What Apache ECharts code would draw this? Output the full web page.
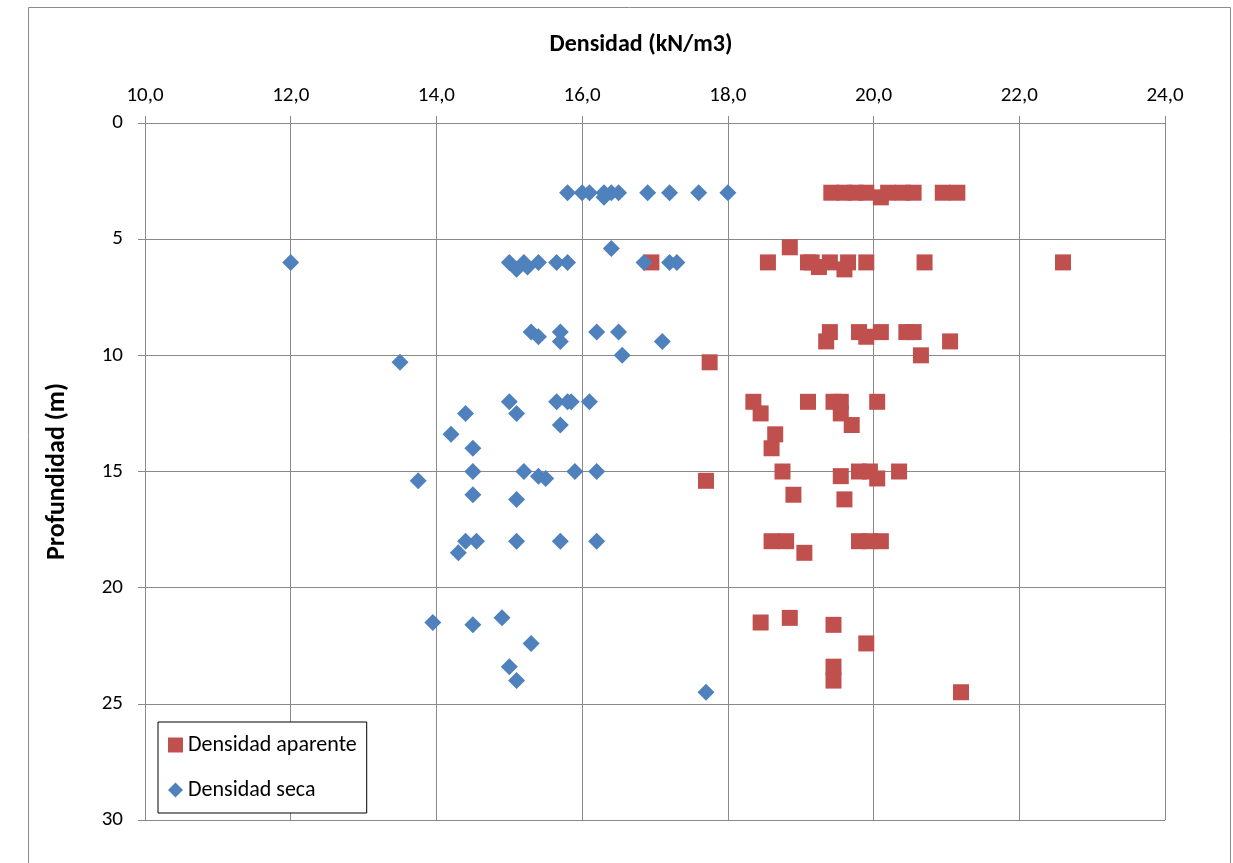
<!DOCTYPE html>
<html>
<head>
<meta charset="utf-8">
<title>Densidad vs Profundidad</title>
<script src="https://cdn.jsdelivr.net/npm/echarts@6/dist/echarts.min.js"></script>
<style>
  html, body { margin: 0; padding: 0; background: #ffffff; }
  #chart { width: 1233px; height: 863px; }
</style>
</head>
<body>
<div id="chart"></div>
<script>
// Densidad aparente (kN/m3) y profundidad (m) de cada muestra
const aparenteDensidad = [
  19.42, 19.6, 19.75, 19.9, 20.1, 20.2, 20.4, 20.55, 20.95, 21.15,
  16.95, 18.55, 18.85, 19.1, 19.15, 19.25, 19.4, 19.6, 19.65, 19.9, 20.7, 22.6,
  19.4, 19.35, 19.8, 19.9, 20.1, 20.45, 20.55, 21.05, 20.65, 17.75,
  18.35, 18.45, 19.1, 19.45, 19.55, 19.55, 19.7, 20.05, 18.65, 18.6,
  18.75, 19.55, 19.8, 19.95, 20.05, 20.35, 17.7, 18.9, 19.6,
  18.6, 18.8, 19.05, 19.8, 19.95, 20.1,
  18.45, 18.85, 19.45, 19.9, 19.45, 19.45, 21.2
];
const aparenteProfundidad = [
  3, 3, 3, 3, 3.2, 3, 3, 3, 3, 3,
  6, 6, 5.35, 6, 6, 6.2, 6, 6.3, 6, 6, 6, 6,
  9, 9.4, 9, 9.2, 9, 9, 9, 9.4, 10, 10.3,
  12, 12.5, 12, 12, 12, 12.5, 13, 12, 13.4, 14,
  15, 15.2, 15, 15, 15.3, 15, 15.4, 16, 16.2,
  18, 18, 18.5, 18, 18, 18,
  21.5, 21.3, 21.6, 22.4, 23.4, 24.0, 24.5
];

// Densidad seca (kN/m3) y profundidad (m) de cada muestra
const secaDensidad = [
  15.8, 16.0, 16.1, 16.3, 16.3, 16.4, 16.5, 16.9, 17.2, 17.6, 18.0,
  16.4,
  12.0, 15.0, 15.1, 15.2, 15.25, 15.4, 15.65, 15.8, 16.85, 17.2, 17.3,
  15.3, 15.4, 15.7, 15.7, 16.2, 16.5, 17.1, 16.55, 13.5,
  15.0, 15.1, 15.65, 15.8, 15.85, 16.1, 15.7, 14.4, 14.2, 14.5,
  14.5, 15.2, 15.4, 15.5, 15.9, 16.2, 13.75, 14.5, 15.1,
  14.4, 14.55, 15.1, 15.7, 16.2, 14.3,
  13.95, 14.5, 14.9, 15.3, 15.0, 15.1, 17.7
];
const secaProfundidad = [
  3, 3, 3, 3, 3.2, 3, 3, 3, 3, 3, 3,
  5.4,
  6, 6, 6.3, 6, 6.2, 6, 6, 6, 6, 6, 6,
  9, 9.2, 9, 9.4, 9, 9, 9.4, 10, 10.3,
  12, 12.5, 12, 12, 12, 12, 13, 12.5, 13.4, 14,
  15, 15, 15.2, 15.3, 15, 15, 15.4, 16, 16.2,
  18, 18, 18, 18, 18, 18.5,
  21.5, 21.6, 21.3, 22.4, 23.4, 24.0, 24.5
];

// Ejes
const densidadTicks = { min: 10, max: 24, interval: 2 };
const profundidadTicks = { min: 0, max: 30, interval: 5 };

const pairs = (xs, ys) => xs.map((x, i) => [x, ys[i]]);

const FONT = 'Carlito, Lato, "Open Sans", sans-serif';
const GRID_COLOR = '#8a8a8a';

const chart = echarts.init(document.getElementById('chart'), null, { renderer: 'canvas' });

chart.setOption({
  backgroundColor: '#ffffff',
  animation: false,
  textStyle: { fontFamily: FONT, color: '#000' },
  graphic: [{
    type: 'rect',
    shape: { x: 28.5, y: 7.5, width: 1202, height: 900 },
    style: { fill: 'none', stroke: '#8c8c8c', lineWidth: 1 },
    silent: true,
    z: -1
  }],
  grid: { left: 145, top: 123, right: 68, bottom: 43, containLabel: false },
  xAxis: {
    type: 'value',
    position: 'top',
    min: densidadTicks.min,
    max: densidadTicks.max,
    interval: densidadTicks.interval,
    name: 'Densidad (kN/m3)',
    nameLocation: 'middle',
    nameGap: 66,
    nameTextStyle: {
      fontFamily: FONT, fontSize: 24, fontWeight: 'bold', color: '#000',
      padding: [0, 28, 0, 0]
    },
    axisLine: { show: true, lineStyle: { color: GRID_COLOR, width: 1 } },
    axisTick: { show: true, inside: false, length: 7, lineStyle: { color: GRID_COLOR, width: 1 } },
    axisLabel: {
      fontFamily: FONT, fontSize: 21, color: '#000', margin: 17,
      formatter: v => v.toFixed(1).replace('.', ',')
    },
    splitLine: { show: true, lineStyle: { color: GRID_COLOR, width: 1 } }
  },
  yAxis: {
    type: 'value',
    inverse: true,
    min: profundidadTicks.min,
    max: profundidadTicks.max,
    interval: profundidadTicks.interval,
    name: 'Profundidad (m)',
    nameLocation: 'middle',
    nameGap: 75,
    nameRotate: 90,
    nameTextStyle: { fontFamily: FONT, fontSize: 26, fontWeight: 'bold', color: '#000' },
    axisLine: { show: true, lineStyle: { color: GRID_COLOR, width: 1 } },
    axisTick: { show: true, inside: false, length: 7, lineStyle: { color: GRID_COLOR, width: 1 } },
    axisLabel: { fontFamily: FONT, fontSize: 21, color: '#000', margin: 22 },
    splitLine: { show: true, lineStyle: { color: GRID_COLOR, width: 1 } }
  },
  legend: {
    orient: 'vertical',
    left: 158,
    top: 722,
    padding: [12, 10, 12, 10],
    itemGap: 23,
    itemWidth: 15,
    itemHeight: 15,
    borderColor: '#000',
    borderWidth: 1,
    backgroundColor: '#fff',
    textStyle: { fontFamily: FONT, fontSize: 22, color: '#000' },
    data: [
      { name: 'Densidad aparente', icon: 'rect' },
      { name: 'Densidad seca', icon: 'diamond' }
    ]
  },
  series: [
    {
      name: 'Densidad aparente',
      type: 'scatter',
      symbol: 'rect',
      symbolSize: 16,
      itemStyle: { color: '#C0504D', opacity: 1 },
      data: pairs(aparenteDensidad, aparenteProfundidad)
    },
    {
      name: 'Densidad seca',
      type: 'scatter',
      symbol: 'diamond',
      symbolSize: 17,
      itemStyle: { color: '#4F81BD', opacity: 1 },
      data: pairs(secaDensidad, secaProfundidad)
    }
  ]
});
</script>
</body>
</html>
